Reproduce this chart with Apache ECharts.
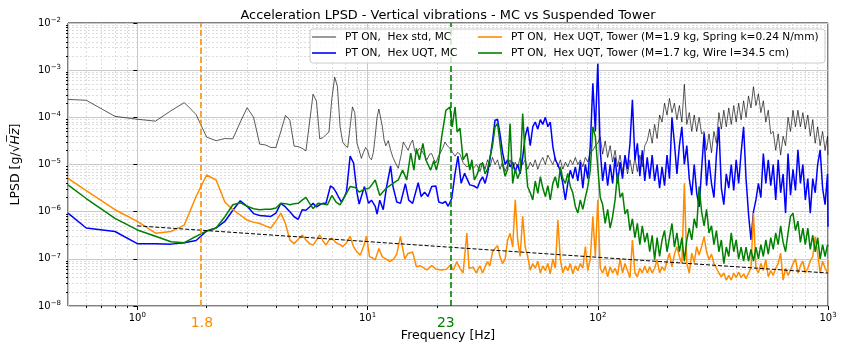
<!DOCTYPE html>
<html lang="en">
<head>
<meta charset="UTF-8">
<title>Acceleration LPSD</title>
<script src="https://cdn.jsdelivr.net/npm/echarts@6/dist/echarts.min.js"></script>
<style>
  html, body { margin: 0; height: 100%; background: #fff; }
  #main { width: 847px; height: 347px; }
</style>
</head>
<body>
<div id="main"></div>
<script>
// series names (legend)
const grayName = 'PT ON,  Hex std, MC';
const blueName = 'PT ON,  Hex UQT, MC';
const orangeName = 'PT ON,  Hex UQT, Tower (M=1.9 kg, Spring k=0.24 N/mm)';
const greenName = 'PT ON,  Hex UQT, Tower (M=1.7 kg, Wire l=34.5 cm)';

// below 30 Hz: [frequency Hz, LPSD g/sqrt(Hz)]
const grayLow = [[0.5,2.4e-4],[0.6,2.3e-4],[0.8,1.05e-4],[1.0,9.1e-5],[1.2,8.3e-5],[1.4,1.38e-4],[1.6,2.05e-4],[1.8,1.15e-4],[2.0,3.8e-5],[2.2,3.2e-5],[2.4,3.55e-5],[2.6,3.5e-5],[2.8,7.9e-5],[3.0,1.6e-4],[3.2,1.0e-4],[3.4,2.7e-5],[3.6,2.6e-5],[3.8,2.3e-5],[4.0,2.3e-5],[4.2,5e-5],[4.4,1.1e-4],[4.6,8.7e-5],[4.8,2.45e-5],[5.0,2.4e-5],[5.2,2.2e-5],[5.4,1.95e-5],[5.6,7.9e-5],[5.8,3.1e-4],[6.0,2.2e-4],[6.2,3.5e-5],[6.4,3.7e-5],[6.6,4.3e-5],[6.8,4.9e-5],[7.0,2.5e-4],[7.2,7.1e-4],[7.4,4.5e-4],[7.6,6.3e-5],[7.8,3.0e-5],[8.0,2.5e-5],[8.2,2.3e-5],[8.4,6.3e-5],[8.6,1.66e-4],[8.8,1.26e-4],[9.0,2.8e-5],[9.2,2.0e-5],[9.4,1.35e-5],[9.6,1.8e-5],[9.8,2.3e-5],[10.0,2.0e-5],[10.2,1.4e-5],[10.4,1.26e-5],[10.6,1.8e-5],[10.8,4e-5],[11.0,1e-4],[11.2,1.5e-4],[11.4,1.4e-4],[11.6,6.3e-5],[11.8,3.3e-5],[12.0,2.5e-5],[12.3,3.2e-5],[12.6,2.0e-5],[12.9,1.4e-5],[13.2,1.1e-5],[13.6,8.3e-6],[14.0,1.6e-5],[14.3,3.0e-5],[14.6,2.5e-5],[15.0,2.0e-5],[15.4,2.8e-5],[15.7,3.3e-5],[16.0,2.0e-5],[16.3,1.7e-5],[16.8,2.2e-5],[17.2,2.0e-5],[17.6,1.6e-5],[18.1,1.26e-5],[18.6,1.66e-5],[19.0,1.7e-5],[19.4,1.3e-5],[19.8,1.07e-5],[20.2,1.4e-5],[20.6,1.5e-5],[21.2,2.2e-5],[21.7,3.0e-5],[22.2,2.5e-5],[22.8,2.2e-5],[23.4,1.8e-5],[24.0,1.5e-5],[24.6,1.8e-5],[25.2,1.66e-5],[26.0,1.1e-5],[27.0,8.9e-6],[28.0,1e-5],[28.8,8.3e-6],[29.8,1e-5]];

const blueLow = [[0.5,9.3e-7],[0.6,4.5e-7],[0.8,3.8e-7],[1.0,2.1e-7],[1.2,2.1e-7],[1.4,2.05e-7],[1.6,2.2e-7],[1.8,2.45e-7],[2.0,3.9e-7],[2.2,4.5e-7],[2.4,6.2e-7],[2.6,1.07e-6],[2.8,1.7e-6],[3.0,1.3e-6],[3.2,9.1e-7],[3.4,8.3e-7],[3.6,8.1e-7],[3.8,7.9e-7],[4.0,9.3e-7],[4.2,1.5e-6],[4.4,1.26e-6],[4.6,1e-6],[4.8,7.8e-7],[5.0,6.9e-7],[5.2,1.1e-6],[5.4,1.07e-6],[5.6,1.26e-6],[5.8,1.5e-6],[6.0,1.26e-6],[6.2,1.4e-6],[6.4,1.5e-6],[6.6,1.5e-6],[6.9,3.5e-6],[7.1,3.2e-6],[7.3,2.6e-6],[7.5,2e-6],[7.7,1.6e-6],[7.9,2e-6],[8.1,2.6e-6],[8.4,1.5e-5],[8.7,1.07e-5],[9.0,2.5e-6],[9.2,1.45e-6],[9.4,2.1e-6],[9.7,3.4e-6],[10.1,1.5e-6],[10.4,1.75e-6],[10.8,1.3e-6],[11.0,8.9e-7],[11.3,1.75e-6],[11.7,1.1e-6],[12.1,3.4e-6],[12.6,9.3e-6],[12.9,3.4e-6],[13.4,1.6e-6],[13.9,1.5e-6],[14.6,3.9e-6],[15.1,1.75e-6],[15.7,1.5e-6],[16.6,4.1e-6],[17.1,2.1e-6],[17.7,2.6e-6],[18.3,2.1e-6],[19.0,3.4e-6],[19.8,3.5e-6],[20.4,1.6e-6],[21.2,1.5e-6],[21.8,1.66e-6],[22.4,1.3e-6],[23.2,1.9e-6],[24.0,6.5e-6],[24.7,1.5e-5],[25.5,4e-6],[26.4,6.5e-6],[27.8,3.7e-6],[29.0,3.5e-6]];

const orangeLow = [[0.5,5.1e-6],[0.6,2.8e-6],[0.8,1.1e-6],[1.0,6.2e-7],[1.2,3.5e-7],[1.4,3.8e-7],[1.6,5.2e-7],[1.8,2.1e-6],[2.0,6e-6],[2.2,4.7e-6],[2.4,1.6e-6],[2.6,1.1e-6],[2.8,8.5e-7],[3.0,6.6e-7],[3.2,6e-7],[3.4,5.6e-7],[3.6,5e-7],[3.8,4.5e-7],[4.0,6.3e-7],[4.2,9.3e-7],[4.4,5.6e-7],[4.6,2.5e-7],[4.8,2.1e-7],[5.0,2.6e-7],[5.2,3.2e-7],[5.4,2.5e-7],[5.6,2.1e-7],[5.8,1.95e-7],[6.0,2.5e-7],[6.2,3.2e-7],[6.4,2.4e-7],[6.6,1.95e-7],[6.8,2.5e-7],[7.0,2.75e-7],[7.3,2.2e-7],[7.6,2e-7],[7.8,1.8e-7],[8.1,2.2e-7],[8.4,3e-7],[8.7,1.8e-7],[9.0,1.4e-7],[9.3,1.2e-7],[9.6,1.8e-7],[9.9,3e-7],[10.2,1.1e-7],[10.5,1.05e-7],[10.8,9.5e-8],[11.2,1.66e-7],[11.6,1.1e-7],[12.0,1e-7],[12.5,8.7e-8],[13.0,1e-7],[13.4,1.26e-7],[13.9,3e-7],[14.5,1e-7],[15.0,1.3e-7],[15.7,1.4e-7],[16.3,6.8e-8],[17.0,7.1e-8],[18.1,5.8e-8],[19.0,7.2e-8],[19.9,6e-8],[21.0,5.8e-8],[22.0,6e-8],[22.8,7.2e-8],[23.6,5.8e-8],[24.4,8.7e-8],[25.2,6.3e-8],[26.0,5e-8],[27.0,3.5e-7],[27.6,6.3e-8],[28.8,6.6e-8],[29.7,5e-8]];

const greenLow = [[0.5,3.7e-6],[0.6,1.9e-6],[0.8,7.2e-7],[1.0,4.1e-7],[1.2,3e-7],[1.4,2.3e-7],[1.6,2.2e-7],[1.8,3e-7],[2.0,3.9e-7],[2.2,4.5e-7],[2.4,7.8e-7],[2.6,1.4e-6],[2.8,1.55e-6],[3.0,1.3e-6],[3.2,1.15e-6],[3.4,1.1e-6],[3.6,1.12e-6],[3.8,1.12e-6],[4.0,1.2e-6],[4.2,1.5e-6],[4.4,1.48e-6],[4.6,1.4e-6],[4.8,1.48e-6],[5.0,1.5e-6],[5.2,1.75e-6],[5.4,2e-6],[5.6,1.5e-6],[5.8,1.17e-6],[6.1,1.5e-6],[6.4,1.45e-6],[6.7,1.4e-6],[7.0,2.2e-6],[7.3,1.6e-6],[7.6,1.4e-6],[8.0,2.2e-6],[8.4,3.4e-6],[8.9,3.2e-6],[9.2,2.6e-6],[9.6,2.9e-6],[10.2,3.2e-6],[10.8,4.7e-6],[11.3,2.2e-6],[12.1,3.2e-6],[12.9,4e-6],[13.6,4.7e-6],[14.2,7.6e-6],[14.8,4.7e-6],[15.4,1.75e-5],[15.9,7.6e-6],[16.3,2.2e-5],[16.8,1.26e-5],[17.4,2.8e-5],[17.9,1.26e-5],[18.8,7.6e-6],[19.4,1.2e-5],[19.9,7.6e-6],[20.4,1.26e-5],[21.0,3.9e-5],[21.9,1.4e-4],[22.8,1.66e-4],[23.3,6.3e-5],[24.0,1.66e-4],[24.5,4.9e-5],[25.2,5.9e-5],[26.0,1.26e-5],[27.0,1.75e-5],[27.8,7.6e-6],[28.4,1.26e-5],[29.1,4.7e-6]];

// 30 Hz .. 1 kHz: shared frequency grid, values as log10 exponents
const hiFreq = [30,30.8,31.6,32.4,33.2,34,34.9,35.8,36.7,37.6,
  38.6,39.6,40.6,41.6,42.7,43.8,44.9,46,47.2,48.4,
  49.6,50.9,52.2,53.5,54.9,56.3,57.7,59.2,60.7,62.2,
  63.8,65.4,67.1,68.8,70.5,72.3,74.1,76,77.9,79.9,
  81.9,84,86.1,88.3,90.5,92.8,95.2,97.6,100,102.5,
  105,107.7,110.4,113.2,116,118.9,121.9,125,128.1,131.3,
  134.6,138,141.4,145,148.6,152.3,156.1,160,164,168.1,
  172.3,176.6,181,185.6,190.2,195,199.9,204.9,210,215.3,
  220.7,226.2,231.9,237.7,243.6,249.7,256,262.4,268.9,275.6,
  282.5,289.6,296.8,304.2,311.8,319.6,327.6,335.8,344.2,352.8,
  361.6,370.7,380,389.5,399.2,409.2,419.4,429.9,440.6,451.6,
  462.9,474.5,486.4,498.6,511,523.8,536.9,550.3,564.1,578.2,
  592.7,607.5,622.7,638.3,654.2,670.6,687.4,704.6,722.2,740.3,
  758.8,777.8,797.2,817.1,837.5,858.4,879.9,901.9,924.4,947.5,
  971.2,995.5,1000];

const grayHiExp = [-5.0,-5.15,-4.95,-5.1,-4.9,-5.05,-4.85,-5.0,-4.9,-5.1,
  -4.95,-5.15,-5.0,-4.9,-5.1,-4.95,-5.05,-4.85,-5.0,-4.9,
  -5.1,-4.95,-5.05,-4.9,-5.1,-4.95,-4.85,-5.0,-4.8,-4.9,
  -5.0,-4.85,-5.05,-4.9,-5.1,-4.95,-5.05,-4.9,-5.0,-4.85,
  -5.0,-4.9,-5.05,-4.85,-4.95,-4.75,-4.7,-4.6,-4.55,-4.42,
  -4.78,-4.5,-4.85,-4.6,-4.95,-4.7,-5.05,-4.8,-5.15,-4.85,
  -5.2,-4.9,-5.2,-4.85,-5.15,-4.8,-5.05,-4.6,-4.5,-4.25,
  -4.55,-4.15,-4.45,-3.95,-4.1,-3.7,-3.95,-3.6,-3.9,-3.7,
  -4.05,-3.75,-4.1,-3.3,-4.15,-3.9,-4.3,-3.95,-4.3,-4.0,
  -4.35,-4.3,-4.7,-4.35,-4.75,-4.3,-4.55,-3.9,-4.25,-3.85,
  -4.2,-3.8,-4.15,-3.75,-4.1,-3.7,-4.05,-3.65,-4.0,-3.55,
  -3.8,-3.35,-3.75,-3.5,-3.9,-3.65,-4.1,-3.85,-4.35,-4.3,
  -4.7,-4.35,-4.8,-4.4,-4.6,-4.0,-4.3,-3.85,-4.2,-3.85,
  -4.2,-3.9,-4.25,-3.95,-4.4,-4.05,-4.55,-4.2,-4.6,-4.3,
  -4.7,-4.4,-4.8];

const blueHiExp = [-5.5,-5.35,-5.26,-5.4,-5.2,-4.9,-4.5,-4.06,-4.04,-4.35,
  -4.75,-5.0,-4.9,-5.05,-4.95,-5.15,-5.0,-5.2,-4.85,-4.4,
  -4.2,-4.6,-4.2,-4.1,-4.25,-4.05,-4.15,-4.0,-4.2,-4.1,
  -4.62,-4.9,-5.0,-5.15,-5.4,-5.75,-5.4,-5.12,-5.3,-5.05,
  -5.35,-4.95,-5.5,-5.0,-5.3,-4.6,-3.28,-4.3,-2.86,-4.7,
  -5.35,-4.95,-5.45,-5.0,-5.4,-4.85,-5.4,-4.95,-5.3,-4.8,
  -5.1,-4.55,-3.63,-4.9,-4.55,-5.25,-4.7,-5.35,-4.85,-5.3,
  -4.8,-5.35,-5.0,-5.5,-5.05,-5.45,-4.8,-5.3,-4.0,-4.55,
  -5.2,-4.6,-4.2,-5.0,-4.6,-5.3,-5.65,-5.0,-5.6,-5.9,
  -5.1,-4.34,-5.45,-4.9,-5.4,-5.7,-4.8,-4.2,-5.5,-5.85,
  -5.2,-5.5,-5.0,-5.55,-4.9,-5.4,-4.75,-4.2,-5.3,-6.05,
  -6.6,-6.0,-5.75,-5.4,-5.7,-4.77,-5.4,-4.9,-5.45,-5.0,
  -5.75,-4.9,-5.6,-5.2,-6.03,-4.77,-5.65,-5.1,-5.55,-4.69,
  -5.4,-5.0,-5.75,-5.3,-6.03,-5.3,-5.6,-5.0,-4.69,-5.5,
  -5.85,-5.2,-6.32];

const orangeHiExp = [-7.25,-7.15,-7.3,-7.17,-7.06,-7.15,-6.85,-6.78,-6.72,-6.95,
  -7.1,-7.0,-6.6,-6.46,-6.75,-5.75,-6.6,-6.95,-6.1,-6.75,
  -6.95,-7.24,-7.1,-7.2,-7.05,-7.3,-7.15,-7.25,-7.1,-7.32,
  -7.0,-7.2,-6.18,-7.02,-7.3,-7.15,-7.25,-7.1,-7.32,-7.15,
  -7.25,-7.1,-7.2,-6.74,-7.25,-7.0,-6.1,-6.95,-5.75,-7.2,
  -7.3,-7.15,-7.38,-7.17,-7.3,-7.2,-7.35,-7.0,-7.3,-7.1,
  -7.25,-7.4,-6.6,-7.3,-7.38,-7.2,-7.3,-7.15,-7.3,-7.17,
  -7.3,-7.2,-7.02,-7.3,-7.17,-7.25,-7.05,-6.88,-7.17,-6.9,
  -6.74,-6.95,-7.1,-5.4,-7.1,-7.3,-6.88,-7.08,-6.74,-6.92,
  -6.74,-6.53,-6.85,-7.02,-6.9,-7.1,-7.2,-7.3,-7.38,-7.3,
  -7.45,-7.35,-7.45,-7.3,-7.4,-7.28,-7.4,-7.32,-7.42,-7.3,
  -7.2,-6.03,-7.2,-7.3,-7.1,-7.25,-7.02,-7.38,-7.25,-7.35,
  -7.2,-7.1,-6.88,-7.45,-7.2,-7.35,-7.24,-7.1,-7.0,-7.3,
  -7.15,-7.05,-7.3,-7.2,-7.05,-6.95,-6.53,-6.9,-7.3,-7.05,
  -7.2,-7.3,-7.02];

const greenHiExp = [-5.2,-5.0,-4.97,-5.2,-5.1,-4.85,-4.6,-4.2,-4.13,-4.55,
  -5.0,-5.25,-5.1,-4.13,-5.4,-5.1,-5.3,-5.15,-3.92,-4.85,
  -5.47,-5.6,-5.75,-5.35,-5.61,-5.26,-5.5,-5.68,-5.45,-5.75,
  -5.4,-5.26,-5.5,-5.05,-5.3,-5.4,-5.19,-5.47,-5.6,-5.89,
  -6.03,-5.75,-5.95,-5.7,-5.47,-5.12,-4.2,-4.41,-5.05,-5.7,
  -5.85,-6.25,-5.95,-6.35,-6.1,-5.75,-5.19,-5.7,-5.6,-6.05,
  -5.95,-6.4,-6.15,-6.55,-6.25,-6.7,-6.3,-6.65,-6.45,-6.85,
  -6.5,-7.02,-6.55,-6.95,-6.6,-6.4,-6.85,-6.55,-6.25,-6.75,
  -6.45,-6.85,-6.55,-7.05,-6.6,-6.35,-6.6,-6.15,-6.35,-5.47,
  -6.0,-6.3,-5.95,-6.45,-6.3,-6.7,-6.4,-6.85,-6.6,-7.1,
  -6.75,-6.95,-6.45,-6.85,-6.6,-7.0,-6.75,-7.05,-6.75,-7.05,
  -6.8,-7.05,-6.75,-7.0,-6.7,-6.95,-6.6,-6.9,-6.55,-6.8,
  -6.45,-6.7,-6.3,-6.65,-6.85,-6.45,-6.1,-6.03,-6.4,-6.2,
  -6.65,-6.35,-6.7,-6.35,-6.8,-6.5,-6.85,-6.55,-7.0,-6.7,
  -6.95,-6.7,-6.74];

// dashed reference line
const trendData = [[1, 5e-7], [1000, 5e-8]];

// vertical markers
const markerFreq = [1.89, 23];
const markerText = ['1.8', '23'];

// axis ranges and minor grid positions
const xMin = 0.5, xMax = 1000;
const yMin = 1e-8, yMax = 1e-2;
const minorX = [0.6,0.7,0.8,0.9,2,3,4,5,6,7,8,9,20,30,40,50,60,70,80,90,200,300,400,500,600,700,800,900];
const minorY = [2e-8,3e-8,4e-8,5e-8,6e-8,7e-8,8e-8,9e-8,2e-7,3e-7,4e-7,5e-7,6e-7,7e-7,8e-7,9e-7,2e-6,3e-6,4e-6,5e-6,6e-6,7e-6,8e-6,9e-6,2e-5,3e-5,4e-5,5e-5,6e-5,7e-5,8e-5,9e-5,2e-4,3e-4,4e-4,5e-4,6e-4,7e-4,8e-4,9e-4,2e-3,3e-3,4e-3,5e-3,6e-3,7e-3,8e-3,9e-3];

function joinData(low, hiExp) {
    return low.concat(hiFreq.map(function (f, i) { return [f, Math.pow(10, hiExp[i])]; }));
}

const chart = echarts.init(document.getElementById('main'));

function powLabel(v) {
    const e = Math.round(Math.log10(v));
    return '{b|10}{s|' + String(e).replace('-', '\u2212') + '}';
}
const powRich = {
    b: {fontSize: 10, color: '#000', lineHeight: 13},
    s: {fontSize: 7, color: '#000', verticalAlign: 'top', lineHeight: 13}
};

const minorAxis = function (vals, min, max, pos) {
    return {
        type: 'value', min: Math.log10(min), max: Math.log10(max), position: pos,
        silent: true,
        axisLine: {show: false},
        axisLabel: {show: false},
        axisTick: {show: true, length: 2, lineStyle: {color: '#000'}, customValues: vals.map(Math.log10)},
        splitLine: {show: true, lineStyle: {color: '#dcdcdc', width: 1, type: [2, 2]}}
    };
};

function lineSeries(name, data, color, width, iconColor) {
    return {
        name: name, type: 'line', data: data, symbol: 'none', showSymbol: false,
        lineStyle: {color: color, width: width}, itemStyle: {color: iconColor || color},
        emphasis: {disabled: true}, silent: true
    };
}

const legendBase = {
    orient: 'vertical', top: 31, padding: 0, icon: 'rect',
    itemGap: 4, itemWidth: 24, itemHeight: 1.6, z: 10,
    textStyle: {fontSize: 10.6, color: '#000', padding: [0, 0, 0, 4], lineHeight: 12}
};

const option = {
    animation: false,
    textStyle: {fontFamily: 'DejaVu Sans'},
    title: {
        text: 'Acceleration LPSD - Vertical vibrations - MC vs Suspended Tower',
        left: 443, top: 4, textAlign: 'center',
        textStyle: {fontSize: 12.9, fontWeight: 'normal', color: '#000'}
    },
    grid: {left: 68, top: 23, width: 760, height: 283, show: true, borderColor: '#000', borderWidth: 1},
    legend: [
        Object.assign({}, legendBase, {data: [grayName, blueName], left: 312}),
        Object.assign({}, legendBase, {data: [orangeName, greenName], left: 478})
    ],
    graphic: [{
        type: 'rect', left: 309.5, top: 28.5, z: 9,
        shape: {width: 515, height: 34, r: 3},
        style: {fill: 'rgba(255,255,255,0.8)', stroke: '#cccccc', lineWidth: 1}
    }],
    xAxis: [{
        type: 'log', logBase: 10, min: xMin, max: xMax,
        name: 'Frequency [Hz]', nameLocation: 'middle', nameGap: 23,
        nameTextStyle: {fontSize: 12.5, color: '#000'},
        axisLine: {show: false},
        axisTick: {show: true, length: 4, lineStyle: {color: '#000'}},
        axisLabel: {formatter: powLabel, rich: powRich, margin: 6, showMinLabel: false},
        splitLine: {show: true, lineStyle: {color: '#c8c8c8', width: 1}}
    }, minorAxis(minorX, xMin, xMax, 'bottom')],
    yAxis: [{
        type: 'log', logBase: 10, min: yMin, max: yMax,
        name: 'LPSD [g/\u221a{i|H\u0305z\u0305}]', nameLocation: 'middle', nameGap: 46, nameRotate: 90,
        nameTextStyle: {fontSize: 12.5, color: '#000', rich: {i: {fontSize: 12.5, fontStyle: 'italic', color: '#000'}}},
        axisLine: {show: false},
        axisTick: {show: true, length: 4, lineStyle: {color: '#000'}},
        axisLabel: {formatter: powLabel, rich: powRich, margin: 7},
        splitLine: {show: true, lineStyle: {color: '#c8c8c8', width: 1}}
    }, minorAxis(minorY, yMin, yMax, 'left')],
    series: [
        lineSeries(grayName, joinData(grayLow, grayHiExp), 'rgba(0,0,0,0.72)', 0.9, '#808080'),
        lineSeries(blueName, joinData(blueLow, blueHiExp), '#0000ff', 1.5),
        lineSeries(orangeName, joinData(orangeLow, orangeHiExp), '#ff8c00', 1.5),
        lineSeries(greenName, joinData(greenLow, greenHiExp), '#008000', 1.5),
        {
            name: 'trend', type: 'line', data: trendData, symbol: 'none', silent: true, z: 3,
            lineStyle: {color: '#000', width: 1, type: [4, 2]},
            markLine: {
                silent: true, symbol: ['none', 'none'], animation: false,
                data: markerFreq.map(function (f, i) {
                    const c = i === 0 ? '#ff8c00' : '#008000';
                    return {
                        xAxis: f,
                        lineStyle: {color: c, width: 1.6, type: [6, 3]},
                        label: {show: true, position: 'start', distance: 10, offset: i === 0 ? [1, 0] : [-5, 0],
                            formatter: markerText[i], color: c, fontSize: 14}
                    };
                })
            }
        }
    ]
};

chart.setOption(option);
</script>
</body>
</html>
